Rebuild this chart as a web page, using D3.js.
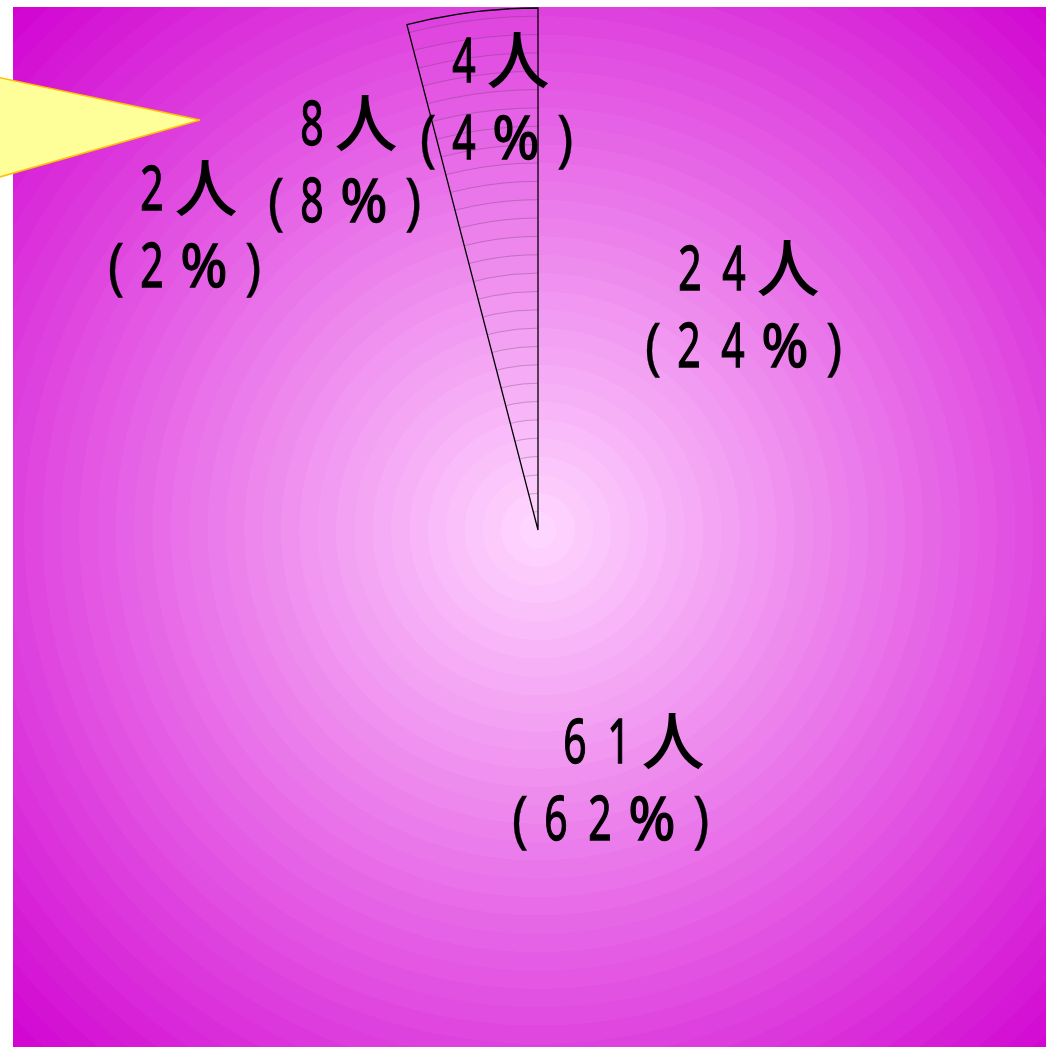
<!DOCTYPE html>
<html>
<head>
<meta charset="utf-8">
<script src="https://cdn.jsdelivr.net/npm/d3@7"></script>
<style>
  body { margin: 0; background: #fff; }
  svg { display: block; }
</style>
</head>
<body>
<svg id="chart"></svg>
<script>
// slice values (order clockwise from 12 o'clock)
const counts = [24, 61, 2, 8, 4];
const percents = [24, 62, 2, 8, 4];
// only this slice gets an outline / hatch in the original
const outlined = [false, false, false, false, true];

// label placement: [line1 first glyph x, line1 baseline, line2 first glyph x]
const labelLayout = [[690, 290, 653], [575, 763, 520], [152, 210, 116], [312, 145, 276], [464, 82, 428]];
// yellow pointer shape at the top left
const pointerPts = [[-4, 77], [200, 120], [-4, 178]];

const width = 1048, height = 1047;
const cx = 538, cy = 530, radius = 522;
const bandW = 18.35, nBands = 41;

const svg = d3.select("#chart").attr("width", width).attr("height", height);
const defs = svg.append("defs");

// stepped radial gradient (the original shows concentric bands)
const color = d3.interpolateRgb("#ffd8ff", "#d000d0");
const grad = defs.append("radialGradient")
    .attr("id", "bg")
    .attr("gradientUnits", "userSpaceOnUse")
    .attr("cx", cx).attr("cy", cy).attr("r", nBands * bandW);
d3.range(nBands).forEach(i => {
    const c = color((i + 0.5) / nBands);
    grad.append("stop").attr("offset", i / nBands).attr("stop-color", c);
    grad.append("stop").attr("offset", (i + 1) / nBands).attr("stop-color", c);
});

svg.append("rect")
    .attr("x", 13).attr("y", 7)
    .attr("width", 1033).attr("height", 1040)
    .attr("fill", "url(#bg)");

// pie
const pie = d3.pie().sort(null).value(d => d);
const arc = d3.arc().innerRadius(0).outerRadius(radius);
const arcs = pie(counts);

const chart = svg.append("g").attr("transform", `translate(${cx},${cy})`);

arcs.forEach((a, i) => {
    if (!outlined[i]) return;
    defs.append("clipPath").attr("id", "clip" + i)
        .append("path").attr("d", arc(a));
    // band boundary lines inside the slice
    chart.append("g").attr("clip-path", `url(#clip${i})`)
        .selectAll("circle")
        .data(d3.range(1, Math.ceil(radius / bandW) + 1))
        .enter().append("circle")
            .attr("r", k => k * bandW)
            .attr("fill", "none")
            .attr("stroke", "#5a3a5a")
            .attr("stroke-opacity", 0.4)
            .attr("stroke-width", 0.8);
});

chart.selectAll("path.slice")
    .data(arcs)
    .enter().append("path")
        .attr("class", "slice")
        .attr("d", arc)
        .attr("fill", "none")
        .attr("stroke", (d, i) => outlined[i] ? "#000" : "none")
        .attr("stroke-width", 1.3);

// labels, laid out glyph by glyph (condensed digits, wide 人)
const glyphW = { "(": 28, ")": 38, "%": 60, "人": 64 };
const glyphScale = { "(": 0.9, ")": 0.9, "%": 0.95 };
const glyphStroke = { "(": 0.3, ")": 0.3 };

function drawLine(g, str, x0, baseline) {
    let x = x0, prevW = null;
    for (const ch of str) {
        const w = glyphW[ch] || 44;
        if (prevW !== null) x += (prevW + w) / 2;
        prevW = w;
        if (ch === "人") {
            g.append("text")
                .attr("x", x).attr("y", baseline + 1)
                .attr("text-anchor", "middle")
                .attr("font-family", "'Noto Sans CJK JP', 'Noto Sans CJK SC', sans-serif")
                .attr("font-size", 63)
                .attr("font-weight", 500)
                .text(ch);
        } else {
            g.append("text")
                .attr("transform", `translate(${x},${baseline}) scale(${glyphScale[ch] || 0.66},1)`)
                .attr("text-anchor", "middle")
                .attr("font-family", "'Noto Sans', 'DejaVu Sans', sans-serif")
                .attr("font-size", ch === "%" ? 60 : 62)
                .attr("stroke", "#000")
                .attr("stroke-width", glyphStroke[ch] !== undefined ? glyphStroke[ch] : 1.3)
                .text(ch);
        }
    }
}

const labels = svg.append("g").attr("fill", "#000");
counts.forEach((c, i) => {
    const [x1, y1, x2] = labelLayout[i];
    drawLine(labels, c + "人", x1, y1);
    drawLine(labels, "(" + percents[i] + "%)", x2, y1 + 77);
});

// yellow pointer
svg.append("path")
    .attr("d", d3.line()(pointerPts) + "Z")
    .attr("fill", "#ffff99")
    .attr("stroke", "#ffc000")
    .attr("stroke-width", 1.5);
</script>
</body>
</html>
